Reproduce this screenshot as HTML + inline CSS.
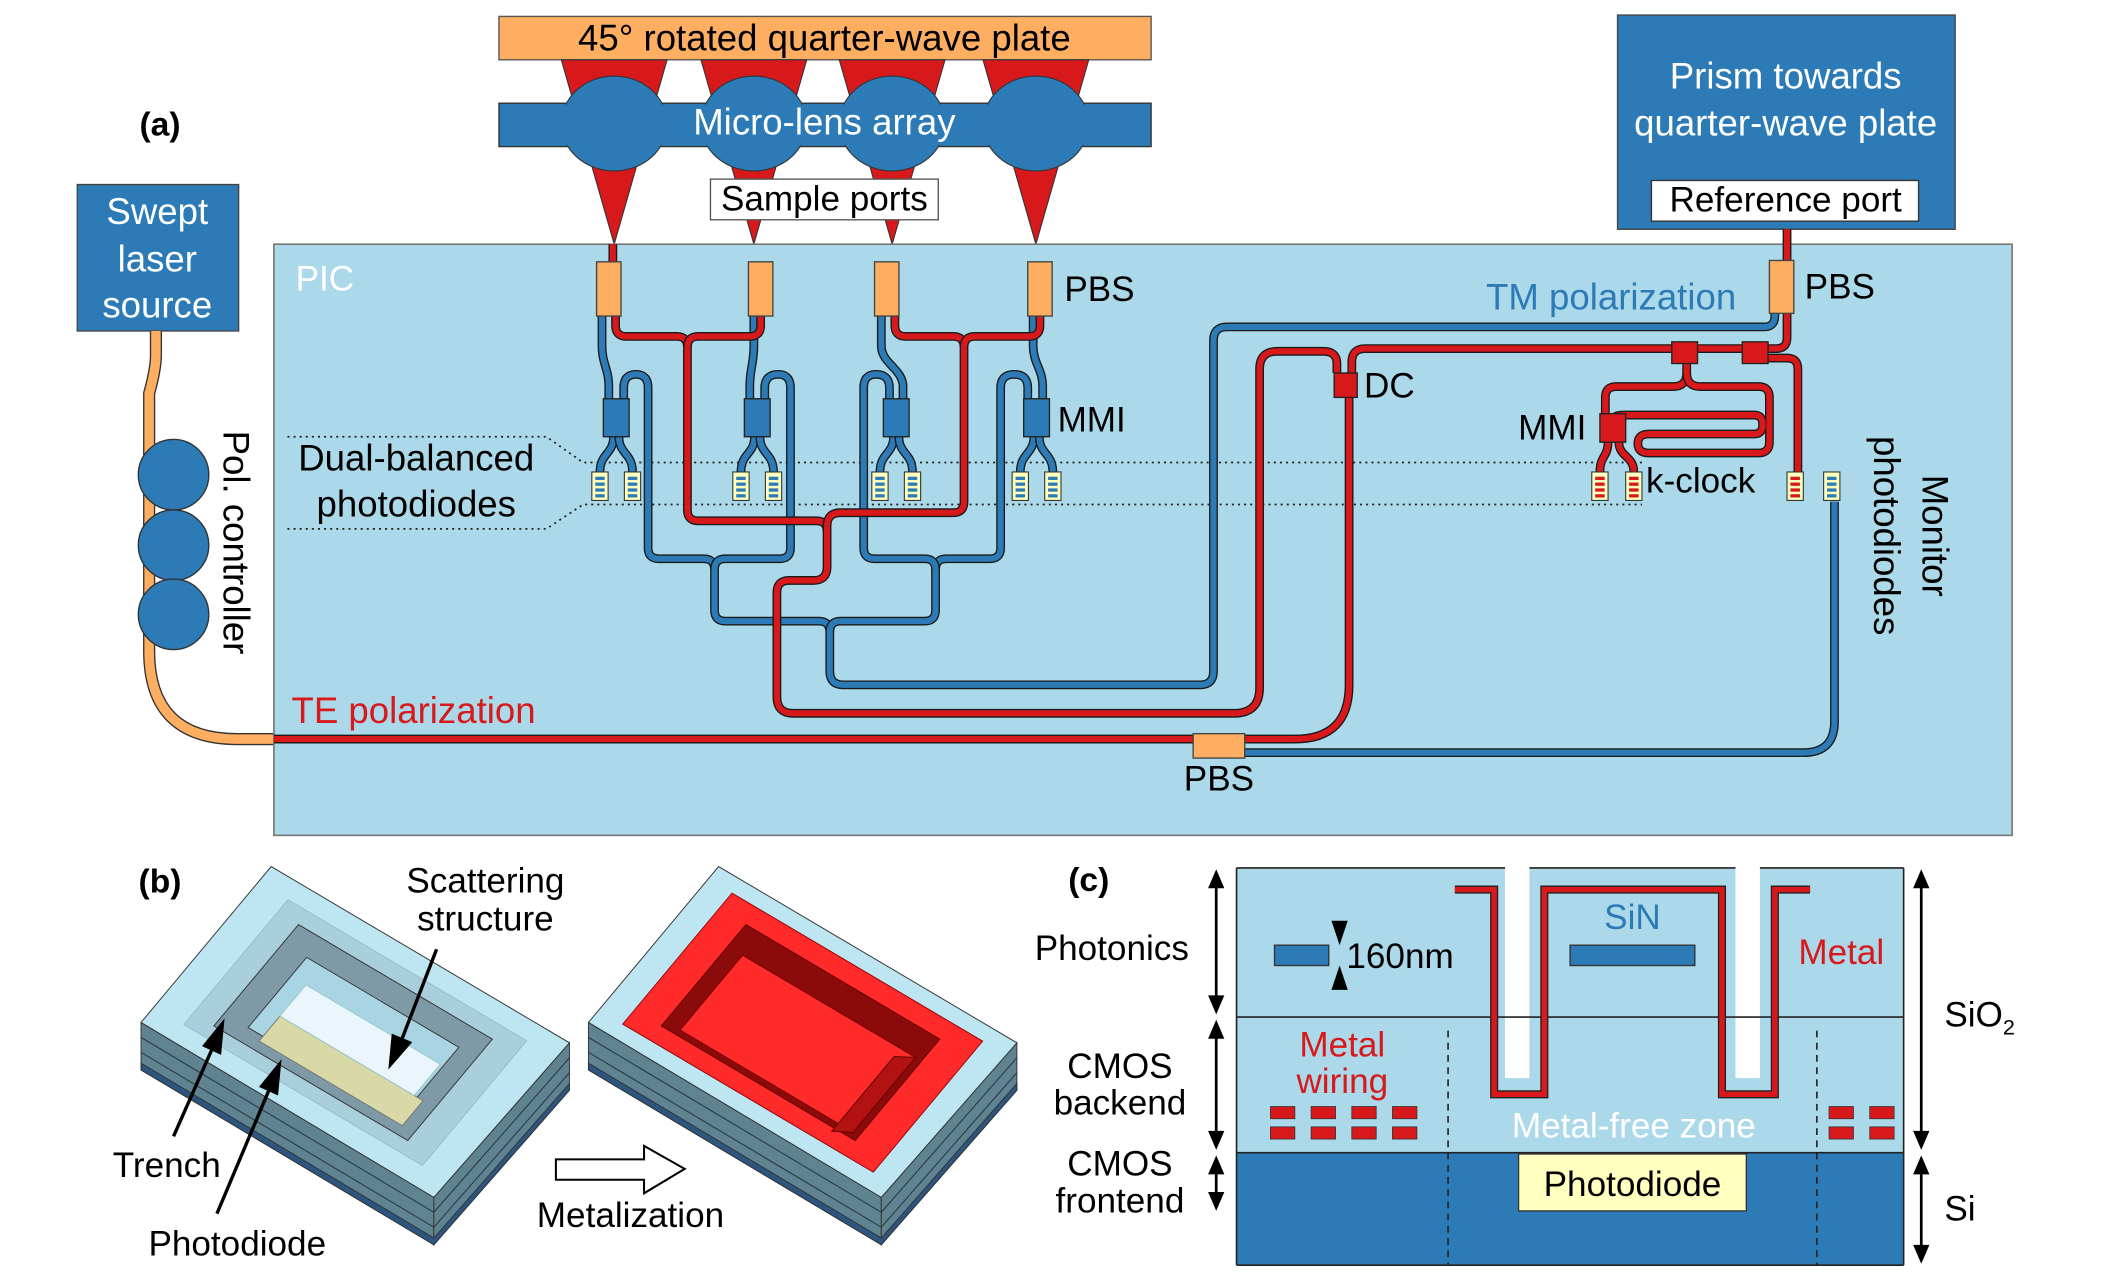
<!DOCTYPE html>
<html><head><meta charset="utf-8"><style>
html,body{margin:0;padding:0;background:#fff;}
svg{display:block;font-family:"Liberation Sans",sans-serif;}
</style></head><body>
<svg id="fig" width="2126" height="1287" viewBox="0 0 1568 949" xmlns="http://www.w3.org/2000/svg">
<g>
 <rect x="368" y="12" width="481" height="32" fill="#fdae61" stroke="#555"/>
 <text x="608" y="37" text-anchor="middle" font-size="25">45° rotated quarter-wave plate</text>
 <g id="cones" fill="#d7191c" stroke="#333" stroke-width="0.8"></g>
 <rect x="368" y="76" width="481" height="32" fill="#2c7bb6" stroke="#333"/>
 <g id="lenses" fill="#2c7bb6" stroke="#333" stroke-width="0.8"></g>
 <rect x="370" y="77" width="477" height="30" fill="#2c7bb6"/>
 <text x="608" y="99" text-anchor="middle" font-size="25" fill="#fff">Micro-lens array</text>
 <rect x="524" y="132" width="168" height="30" fill="#fff" stroke="#555"/>
 <text x="608" y="155" text-anchor="middle" font-size="24">Sample ports</text>
 <text x="118" y="100" text-anchor="middle" font-size="23" font-weight="bold">(a)</text>
 <rect x="57" y="136" width="119" height="108" fill="#2c7bb6" stroke="#444"/>
 <text x="116" y="165" text-anchor="middle" font-size="25" fill="#fff">Swept</text>
 <text x="116" y="200" text-anchor="middle" font-size="25" fill="#fff">laser</text>
 <text x="116" y="234" text-anchor="middle" font-size="25" fill="#fff">source</text>
 <rect x="1193" y="11" width="249" height="158" fill="#2c7bb6" stroke="#444"/>
 <text x="1317" y="65" text-anchor="middle" font-size="25" fill="#fff">Prism towards</text>
 <text x="1317" y="100" text-anchor="middle" font-size="25" fill="#fff">quarter-wave plate</text>
 <rect x="1218" y="133" width="197" height="30" fill="#fff" stroke="#333"/>
 <text x="1317" y="156" text-anchor="middle" font-size="24">Reference port</text>
</g>
<path d="M115 244 V262 Q115 272 110 290 V480 Q110 545 175 545 H202" fill="none" stroke="#333" stroke-width="9"/>
<path d="M115 244 V262 Q115 272 110 290 V480 Q110 545 175 545 H202" fill="none" stroke="#fdae61" stroke-width="7"/>
<circle cx="128" cy="350" r="26" fill="#2c7bb6" stroke="#333"/>
<circle cx="128" cy="402" r="26" fill="#2c7bb6" stroke="#333"/>
<circle cx="128" cy="453" r="26" fill="#2c7bb6" stroke="#333"/>
<text transform="translate(165,400) rotate(90)" text-anchor="middle" font-size="25">Pol. controller</text>
<rect x="202" y="180" width="1282" height="436" fill="#abd9e9" stroke="#777" stroke-width="1.2"/>
<text x="218" y="214" font-size="24" fill="#fff">PIC</text>
<g stroke="#222" stroke-width="1.3" stroke-dasharray="1.5 3" fill="none">
 <path d="M212 322 H403 L430 341 H1211"/>
 <path d="M212 390 H403 L430 372 H1211"/>
</g>
<g id="wg"></g>
<g id="comps"></g>
<text x="307" y="347" text-anchor="middle" font-size="25">Dual-balanced</text>
<text x="307" y="381" text-anchor="middle" font-size="25">photodiodes</text>
<text x="215" y="533" font-size="25" fill="#d7191c">TE polarization</text>
<text x="1096" y="228" font-size="25" fill="#2c7bb6">TM polarization</text>
<text x="785" y="222" font-size="24">PBS</text>
<text x="1331" y="220" font-size="24">PBS</text>
<text x="899" y="583" text-anchor="middle" font-size="24">PBS</text>
<text x="780" y="318" font-size="24">MMI</text>
<text x="1006" y="293" font-size="24">DC</text>
<text x="1170" y="324" text-anchor="end" font-size="24">MMI</text>
<text x="1214" y="363" font-size="24">k-clock</text>
<text transform="translate(1418,395) rotate(90)" text-anchor="middle" font-size="25">Monitor</text>
<text transform="translate(1382,395) rotate(90)" text-anchor="middle" font-size="25">photodiodes</text>

<text x="118" y="658" text-anchor="middle" font-size="23" font-weight="bold">(b)</text>
<g id="blocks"></g>
<text x="358" y="658" text-anchor="middle" font-size="24">Scattering</text>
<text x="358" y="686" text-anchor="middle" font-size="24">structure</text>
<text x="123" y="868" text-anchor="middle" font-size="24">Trench</text>
<text x="175" y="926" text-anchor="middle" font-size="24">Photodiode</text>
<text x="465" y="905" text-anchor="middle" font-size="24">Metalization</text>
<polygon points="410,855 475,855 475,845 505,862 475,880 475,870 410,870" fill="#fff" stroke="#000" stroke-width="1.5"/>
<g stroke="#000" stroke-width="2.5">
 <line x1="322" y1="700" x2="295" y2="770"/><polygon points="288,785 290,764 302,769" fill="#000"/>
 <line x1="128" y1="838" x2="158" y2="770"/><polygon points="164,755 162,776 151,771" fill="#000"/>
 <line x1="160" y1="895" x2="200" y2="800"/><polygon points="206,785 204,806 193,801" fill="#000"/>
</g>

<text x="803" y="657" text-anchor="middle" font-size="23" font-weight="bold">(c)</text>
<rect x="912" y="640" width="492" height="110" fill="#abd9e9"/>
<rect x="912" y="750" width="492" height="100" fill="#abd9e9"/>
<rect x="912" y="850" width="492" height="83" fill="#2c7bb6"/>
<rect x="1110" y="638" width="18" height="157" fill="#fff"/>
<rect x="1280" y="638" width="18" height="157" fill="#fff"/>
<g stroke="#222" stroke-width="1.2" fill="none">
 <line x1="912" y1="640" x2="1110" y2="640"/><line x1="1128" y1="640" x2="1280" y2="640"/><line x1="1298" y1="640" x2="1404" y2="640"/>
 <line x1="912" y1="750" x2="1404" y2="750"/><line x1="912" y1="850" x2="1404" y2="850"/><line x1="912" y1="933" x2="1404" y2="933"/>
 <line x1="912" y1="640" x2="912" y2="933"/><line x1="1404" y1="640" x2="1404" y2="933"/>
 <line x1="1068" y1="760" x2="1068" y2="933" stroke-dasharray="5 4"/><line x1="1340" y1="760" x2="1340" y2="933" stroke-dasharray="5 4"/>
</g>
<path d="M1073 656 H1102 V807 H1139 V656 H1270 V807 H1309 V656 H1335" fill="none" stroke="#222" stroke-width="6"/>
<path d="M1073 656 H1102 V807 H1139 V656 H1270 V807 H1309 V656 H1335" fill="none" stroke="#d7191c" stroke-width="4"/>
<rect x="940" y="697" width="40" height="15" fill="#2c7bb6" stroke="#333"/>
<rect x="1158" y="697" width="92" height="15" fill="#2c7bb6" stroke="#333"/>
<polygon points="982,679 994,679 988,697" fill="#000"/>
<polygon points="982,730 994,730 988,712" fill="#000"/>
<text x="993" y="714" font-size="24">160nm</text>
<text x="1204" y="685" text-anchor="middle" font-size="24" fill="#2c7bb6">SiN</text>
<text x="1358" y="711" text-anchor="middle" font-size="24" fill="#d7191c">Metal</text>
<text x="990" y="779" text-anchor="middle" font-size="24" fill="#d7191c">Metal</text>
<text x="990" y="806" text-anchor="middle" font-size="24" fill="#d7191c">wiring</text>
<g id="pads" fill="#d7191c" stroke="#333" stroke-width="0.6"></g>
<text x="1205" y="839" text-anchor="middle" font-size="24" fill="#fff">Metal-free zone</text>
<rect x="1120" y="851" width="168" height="42" fill="#ffffbf" stroke="#333"/>
<text x="1204" y="882" text-anchor="middle" font-size="24">Photodiode</text>
<g id="darrows"></g>
<text x="820" y="708" text-anchor="middle" font-size="24">Photonics</text>
<text x="826" y="795" text-anchor="middle" font-size="24">CMOS</text>
<text x="826" y="822" text-anchor="middle" font-size="24">backend</text>
<text x="826" y="867" text-anchor="middle" font-size="24">CMOS</text>
<text x="826" y="894" text-anchor="middle" font-size="24">frontend</text>
<text x="1434" y="757" font-size="24">SiO<tspan font-size="16" dy="6">2</tspan></text>
<text x="1434" y="900" font-size="24">Si</text>
</svg>
<script>
const NS='http://www.w3.org/2000/svg';
function mk(parent,tag,attrs){const e=document.createElementNS(NS,tag);for(const k in attrs)e.setAttribute(k,attrs[k]);parent.appendChild(e);return e;}
document.querySelectorAll('text[font-size]').forEach(t=>{t.setAttribute('font-size',(parseFloat(t.getAttribute('font-size'))*1.08).toFixed(1));});
const lensX=[453,556,658,764];
const cones=document.getElementById('cones'),lenses=document.getElementById('lenses');
lensX.forEach((x,i)=>{
 const c=mk(cones,'polygon',{points:`${x-39},44 ${x+39},44 ${x},180`});
 
 
 const l=mk(lenses,'ellipse',{cx:x,cy:91,rx:39,ry:35});
 
 
});
const wg=document.getElementById('wg');
const redPaths=[
'M452 180 V193','M1318 169 V192',
'M454 233 V240 Q454 248 462 248 H499 Q507 248 507 256 V376 Q507 384 515 384 H602 Q610 384 610 392',
'M561 233 V240 Q561 248 553 248 H515 Q507 248 507 256',
'M610 384 V418 Q610 428 600 428 H582 Q573 428 573 437 V514 Q573 526 585 526 H910 Q929 526 929 507 V272 Q929 259 942 259 H976 Q986 259 986 268 V275',
'M660 233 V240 Q660 248 668 248 H703 Q711 248 711 256 V370 Q711 378 703 378 H620 Q610 378 610 388',
'M767 233 V240 Q767 248 759 248 H719 Q711 248 711 256',
'M997 275 V267 Q997 257 1007 257 H1233','M1252 257 H1285',
'M1304 257 H1310 Q1318 257 1318 249 V231',
'M1304 264 H1318 Q1326 264 1326 272 V348',
'M1244 268 V275 Q1244 285 1234 285 H1192 Q1184 285 1184 293 V305',
'M1244 275 Q1244 285 1254 285 H1297 Q1305 285 1305 293 V326 Q1305 334 1297 334 H1216 Q1208 334 1208 327 Q1208 320 1216 320 H1294 Q1300 320 1300 313 Q1300 306 1294 306 H1198 Q1191 306 1191 308',
'M1186 326 C1186 337 1180 336 1180 348','M1194 326 C1194 337 1205 336 1205 348',
'M995 293 V505 Q995 545 955 545 H918','M202 545 H880'];
const bluePaths=[
'M1309 231 V233 Q1309 241 1301 241 H905 Q895 241 895 251 V495 Q895 505 885 505 H622 Q612 505 612 495 V466 Q612 458 604 458 H535 Q527 458 527 450 V420 Q527 412 519 412 H486 Q478 412 478 404 V286 Q478 276 469 276 Q460 276 460 286 V294',
'M612 466 Q612 458 620 458 H682 Q690 458 690 450 V420 Q690 412 698 412 H730 Q738 412 738 404 V286 Q738 276 748 276 Q758 276 758 286 V294',
'M527 420 Q527 412 535 412 H575 Q583 412 583 404 V286 Q583 276 574 276 Q564 276 564 286 V294',
'M690 420 Q690 412 682 412 H645 Q637 412 637 404 V286 Q637 276 646 276 Q656 276 656 286 V294',
'M444 233 V255 C444 268 449 272 449 285 V294','M556 233 V255 C556 268 553 272 553 285 V294',
'M650 233 V255 C650 268 666 272 666 285 V294','M762 233 V255 C762 268 769 272 769 285 V294',
'M918 555 H1330 Q1353 555 1353 532 V370'];
const mmiX=[454.5,558.5,661,764.5];
mmiX.forEach(c=>{bluePaths.push(`M${c-2} 322 C${c-2} 335 ${c-12} 334 ${c-12} 348`);bluePaths.push(`M${c+2} 322 C${c+2} 335 ${c+12} 334 ${c+12} 348`);});
function drawWG(list,col,name){list.forEach(d=>{
 const o=mk(wg,'path',{d:d,fill:'none',stroke:'#1a1a1a','stroke-width':6.5});
 
 
 const p=mk(wg,'path',{d:d,fill:'none',stroke:col,'stroke-width':4.5});
 
 
});}
drawWG(bluePaths,'#2c7bb6','tm-waveguide');
drawWG(redPaths,'#d7191c','te-waveguide');
const comps=document.getElementById('comps');
[440,552,645,758].forEach(x=>{const r=mk(comps,'rect',{x:x,y:193,width:18,height:40,fill:'#fdae61',stroke:'#444'});
 
 });
let r=mk(comps,'rect',{x:1305,y:192,width:18,height:39,fill:'#fdae61',stroke:'#444'});


r=mk(comps,'rect',{x:880,y:541,width:38,height:18,fill:'#fdae61',stroke:'#444'});


mmiX.forEach(c=>{const m=mk(comps,'rect',{x:c-9.5,y:294,width:19,height:28,fill:'#2c7bb6',stroke:'#222'});
 
 });
[[984,275,17,18,'dc'],[1233,252,19,16,'splitter-1'],[1285,252,19,16,'splitter-2'],[1180,305,19,21,'mmi-kclock']].forEach(a=>{
 const m=mk(comps,'rect',{x:a[0],y:a[1],width:a[2],height:a[3],fill:'#d7191c',stroke:'#222'});
 
 });
function pd(cx,col,name){const g=mk(comps,'g',{});
 
 
 mk(g,'rect',{x:cx-6,y:348,width:12,height:21,fill:'#ffffbf',stroke:'#333','stroke-width':0.8});
 for(let i=0;i<4;i++)mk(g,'rect',{x:cx-3.5,y:351.5+i*4.3,width:7,height:2.4,fill:col});}
mmiX.forEach(c=>{pd(c-12,'#2c7bb6','balanced-photodiode');pd(c+12,'#2c7bb6','balanced-photodiode');});
pd(1180,'#d7191c','kclock-photodiode');pd(1205,'#d7191c','kclock-photodiode');
pd(1324,'#d7191c','monitor-photodiode-te');pd(1351,'#2c7bb6','monitor-photodiode-tm');
const blocks=document.getElementById('blocks');
function blk(ox,metal){
 const T=[200+ox,639],R=[420+ox,769],B=[320+ox,883],L=[104+ox,754],th=35;
 const P=(u,v)=>[T[0]+u*(R[0]-T[0])+v*(L[0]-T[0]),T[1]+u*(R[1]-T[1])+v*(L[1]-T[1])];
 const poly=(pts,fill,name,stroke)=>{const e=mk(blocks,'polygon',{points:pts.map(p=>p.join(',')).join(' '),fill:fill,stroke:stroke||'#333','stroke-width':0.7});
  
  return e;};
 poly([L,B,[B[0],B[1]+th],[L[0],L[1]+th]],'#5f8391','block-left-side');
 poly([B,R,[R[0],R[1]+th],[B[0],B[1]+th]],'#5f8391','block-right-side');
 for(let i=1;i<3;i++){mk(blocks,'polyline',{points:`${L[0]},${L[1]+i*11} ${B[0]},${B[1]+i*11} ${R[0]},${R[1]+i*11}`,fill:'none',stroke:'#2a3a44','stroke-width':0.8});}
 poly([[L[0],L[1]+th-5],[B[0],B[1]+th-5],[R[0],R[1]+th-5],[R[0],R[1]+th],[B[0],B[1]+th],[L[0],L[1]+th]],'#2c5680','block-substrate');
 poly([T,R,B,L],'#bde6f2','block-top');
 const q=(u0,u1,v0,v1)=>[P(u0,v0),P(u1,v0),P(u1,v1),P(u0,v1)];
 if(!metal){
  poly(q(0.1,0.9,0.1,0.9),'#a9cfdc','top-inner-rim','#9bbac5');
  poly(q(0.17,0.82,0.18,0.83),'#7e9aa6','trench');
  poly(q(0.25,0.76,0.3,0.75),'#a9d4e3','sensor-island');
  poly(q(0.3,0.78,0.62,0.78),'#d9d9a8','photodiode-strip','#777');
  poly(q(0.3,0.75,0.42,0.62),'#eaf6fb','scattering-structure','#9cc');
 } else {
  poly(q(0.08,0.92,0.08,0.92),'#ff2a2a','metal-frame','#900');
  poly(q(0.17,0.82,0.18,0.83),'#8b0a0a','metal-trench','#600');
  poly(q(0.22,0.8,0.32,0.8),'#ff2a2a','metal-island','#700');
  poly([P(0.8,0.32),P(0.8,0.8),P(0.75,0.85),P(0.75,0.37)],'#b31212','metal-island-side','#600');
 }
}
blk(0,false);blk(330,true);
const pads=document.getElementById('pads');
const padCols=[937,967,997,1027,1349,1379],padRows=[816,831];
padCols.forEach(x=>padRows.forEach(y=>{const p=mk(pads,'rect',{x:x,y:y,width:18,height:9});
 
 }));
const da=document.getElementById('darrows');
function dArrow(x,y1,y2,name){const g=mk(da,'g',{});
 
 
 mk(g,'line',{x1:x,y1:y1+12,x2:x,y2:y2-12,stroke:'#000','stroke-width':2});
 mk(g,'polygon',{points:`${x-6},${y1+14} ${x+6},${y1+14} ${x},${y1}`,fill:'#000'});
 mk(g,'polygon',{points:`${x-6},${y2-14} ${x+6},${y2-14} ${x},${y2}`,fill:'#000'});}
dArrow(897,641,748,'photonics-arrow');dArrow(897,752,848,'backend-arrow');dArrow(897,852,893,'frontend-arrow');
dArrow(1417,641,848,'sio2-arrow');dArrow(1417,852,932,'si-arrow');
</script>
</body></html>
